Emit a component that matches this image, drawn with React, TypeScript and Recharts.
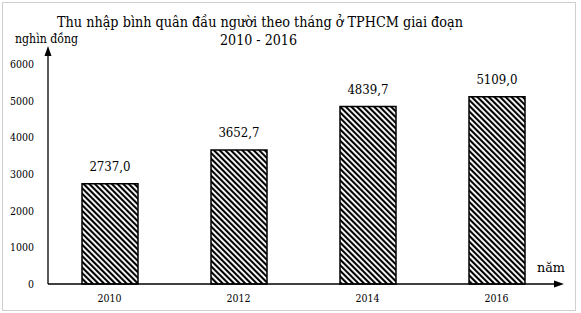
import React from "react";
import { BarChart, Bar, XAxis, YAxis, LabelList } from "recharts";

const years = ["2010", "2012", "2014", "2016"];
const income = [2737.0, 3652.7, 4839.7, 5109.0];
const yTicks = [0, 1000, 2000, 3000, 4000, 5000, 6000];

const data = years.map((year, i) => ({ year, value: income[i] }));

// only DejaVu Serif renders as a serif here; squeeze it to Times-like widths
const FONT = '"DejaVu Serif", serif';

const fmt = (v: any) => Number(v).toFixed(1).replace(".", ",");

// approximate Times width of a numeric string
const numWidth = (s: string, fs: number) =>
  s.split("").reduce((w, c) => w + (c === "," || c === "." ? 0.25 : 0.5) * fs, 0);

const YTick = (props: any) => {
  const { x, y, payload } = props;
  const s = String(payload.value);
  return (
    <text
      x={x}
      y={y}
      dy="0.36em"
      textAnchor="end"
      fontFamily={FONT}
      fontSize={11}
      fill="#000"
      textLength={numWidth(s, 12)}
      lengthAdjust="spacingAndGlyphs"
    >
      {s}
    </text>
  );
};

const XTick = (props: any) => {
  const { x, y, payload } = props;
  const s = String(payload.value);
  return (
    <text
      x={x}
      y={y}
      dy="0.9em"
      textAnchor="middle"
      fontFamily={FONT}
      fontSize={11}
      fill="#000"
      textLength={numWidth(s, 12)}
      lengthAdjust="spacingAndGlyphs"
    >
      {s}
    </text>
  );
};

const ValueLabel = (props: any) => {
  const { x, y, width, value } = props;
  const s = fmt(value);
  return (
    <text
      x={x + width / 2}
      y={y - 13}
      textAnchor="middle"
      fontFamily={FONT}
      fontSize={13.7}
      fill="#000"
      textLength={numWidth(s, 15)}
      lengthAdjust="spacingAndGlyphs"
    >
      {s}
    </text>
  );
};

// y axis line with arrow + unit label
const YAxisArrow = (props: any) => {
  const { x, y, width, height } = props.viewBox;
  const ax = x + width + 3;
  const bottom = y + height;
  return (
    <g>
      <line x1={ax} y1={bottom} x2={ax} y2={y - 12} stroke="#000" strokeWidth={1.3} />
      <polygon points={`${ax},${y - 18} ${ax - 3.5},${y - 8} ${ax + 3.5},${y - 8}`} fill="#000" />
      <text
        x={15}
        y={y - 21.5}
        fontFamily={FONT}
        fontSize={13}
        fill="#000"
        textLength={63}
        lengthAdjust="spacingAndGlyphs"
      >
        nghìn đồng
      </text>
    </g>
  );
};

// x axis line with arrow + unit label
const XAxisArrow = (props: any) => {
  const { x, y, width } = props.viewBox;
  const right = x + width;
  return (
    <g>
      <line x1={x + 3} y1={y} x2={right - 2} y2={y} stroke="#000" strokeWidth={1.3} />
      <polygon points={`${right + 3},${y} ${right - 7},${y - 3.5} ${right - 7},${y + 3.5}`} fill="#000" />
      <text
        x={right - 24}
        y={y - 12}
        fontFamily={FONT}
        fontSize={13.7}
        fill="#000"
        textLength={28}
        lengthAdjust="spacingAndGlyphs"
      >
        năm
      </text>
    </g>
  );
};

export default function App() {
  return (
    <div
      style={{
        position: "fixed",
        left: 0,
        top: 0,
        width: 581,
        height: 313,
        background: "#fff",
      }}
    >
      <div
        style={{
          position: "absolute",
          left: 2,
          top: 2,
          width: 574,
          height: 309,
          boxSizing: "border-box",
          border: "1px solid #cfcfcf",
        }}
      />
      <svg
        width={581}
        height={313}
        style={{ position: "absolute", left: 0, top: 0 }}
      >
        <text
          x={260}
          y={26.7}
          textAnchor="middle"
          fontFamily={FONT}
          fontSize={15.5}
          fill="#000"
          textLength={406}
          lengthAdjust="spacingAndGlyphs"
        >
          Thu nhập bình quân đầu người theo tháng ở TPHCM giai đoạn
        </text>
        <text
          x={258.5}
          y={45}
          textAnchor="middle"
          fontFamily={FONT}
          fontSize={15.5}
          fill="#000"
          textLength={77}
          lengthAdjust="spacingAndGlyphs"
        >
          2010 - 2016
        </text>
      </svg>
      <BarChart
        width={581}
        height={313}
        data={data}
        margin={{ top: 64, right: 20, bottom: 0, left: 0 }}
        style={{ position: "absolute", left: 0, top: 0 }}
      >
        <defs>
          <pattern
            id="hatch"
            patternUnits="userSpaceOnUse"
            width={4}
            height={4}
            patternTransform="rotate(-45)"
          >
            <rect width={4} height={4} fill="#fff" />
            <rect width={2.1} height={4} fill="#000" />
          </pattern>
        </defs>
        <XAxis
          dataKey="year"
          height={29}
          axisLine={false}
          tickLine={false}
          tick={<XTick />}
          label={{ content: XAxisArrow }}
        />
        <YAxis
          width={45}
          domain={[0, 6000]}
          ticks={yTicks}
          axisLine={false}
          tickLine={false}
          tickMargin={5}
          tick={<YTick />}
          label={{ content: YAxisArrow }}
        />
        <Bar
          dataKey="value"
          barSize={56}
          fill="url(#hatch)"
          stroke="#000"
          strokeWidth={1.5}
          isAnimationActive={false}
        >
          <LabelList dataKey="value" content={ValueLabel} />
        </Bar>
      </BarChart>
    </div>
  );
}
